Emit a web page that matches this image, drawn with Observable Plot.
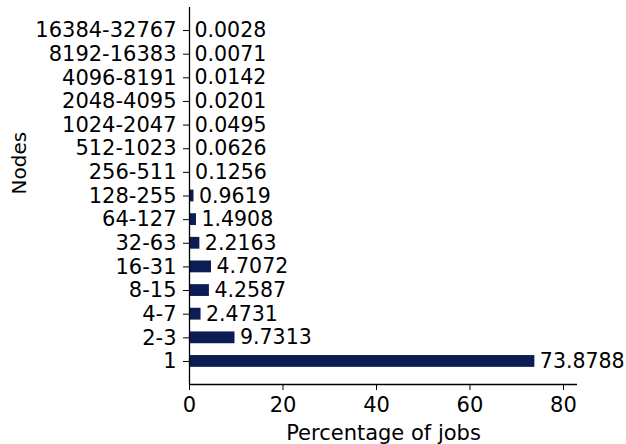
<!DOCTYPE html>
<html>
<head>
<meta charset="utf-8">
<script src="https://cdn.jsdelivr.net/npm/d3@7"></script>
<script src="https://cdn.jsdelivr.net/npm/@observablehq/plot@0.6"></script>
<style>
html, body { margin: 0; padding: 0; background: #fff; }
#chart svg { display: block; }
</style>
</head>
<body>
<div id="chart"></div>
<script>
const categories = ["1", "2-3", "4-7", "8-15", "16-31", "32-63", "64-127", "128-255", "256-511", "512-1023", "1024-2047", "2048-4095", "4096-8191", "8192-16383", "16384-32767"];
const percentages = [73.8788, 9.7313, 2.4731, 4.2587, 4.7072, 2.2163, 1.4908, 0.9619, 0.1256, 0.0626, 0.0495, 0.0201, 0.0142, 0.0071, 0.0028];
const labels = ["73.8788", "9.7313", "2.4731", "4.2587", "4.7072", "2.2163", "1.4908", "0.9619", "0.1256", "0.0626", "0.0495", "0.0201", "0.0142", "0.0071", "0.0028"];
const xTicks = [0, 20, 40, 60, 80];

const data = categories.map((c, i) => ({cat: c, idx: i, value: percentages[i], label: labels[i]}));
const barColor = "#0b1d54";
const font = "DejaVu Sans";

const chart = Plot.plot({
  width: 626,
  height: 444,
  marginTop: 7,
  marginBottom: 60,
  marginLeft: 189,
  marginRight: 49,
  style: {fontFamily: font, fontSize: "21px", color: "#000", background: "#fff"},
  x: {domain: [0, 83], ticks: xTicks},
  y: {domain: [-0.975, 14.975], ticks: d3.range(categories.length)},
  marks: [
    Plot.rectX(data, {x1: 0, x2: "value", y1: d => d.idx - 0.25, y2: d => d.idx + 0.25, fill: barColor}),
    Plot.text(data, {x: "value", y: "idx", text: "label", dx: 5, textAnchor: "start", fontSize: 20.5, fill: "#000"}),
    Plot.axisX({ticks: xTicks, tickSize: 6, tickPadding: 7, fontSize: 21, label: null, stroke: "#000"}),
    Plot.axisY({ticks: d3.range(categories.length), tickFormat: i => categories[i], tickSize: 6, tickPadding: 7, fontSize: 21, label: null, stroke: "#000"}),
    Plot.ruleX([0], {stroke: "#000", strokeWidth: 1.3}),
    Plot.ruleY([-0.975], {stroke: "#000", strokeWidth: 1.3}),
    Plot.text(["Percentage of jobs"], {frameAnchor: "bottom", lineAnchor: "bottom", dy: 55, fontSize: 21, fill: "#000"}),
    Plot.text(["Nodes"], {frameAnchor: "left", dx: -169.5, dy: -1.5, rotate: -90, fontSize: 20, fill: "#000"})
  ]
});
document.getElementById("chart").appendChild(chart);
</script>
</body>
</html>
